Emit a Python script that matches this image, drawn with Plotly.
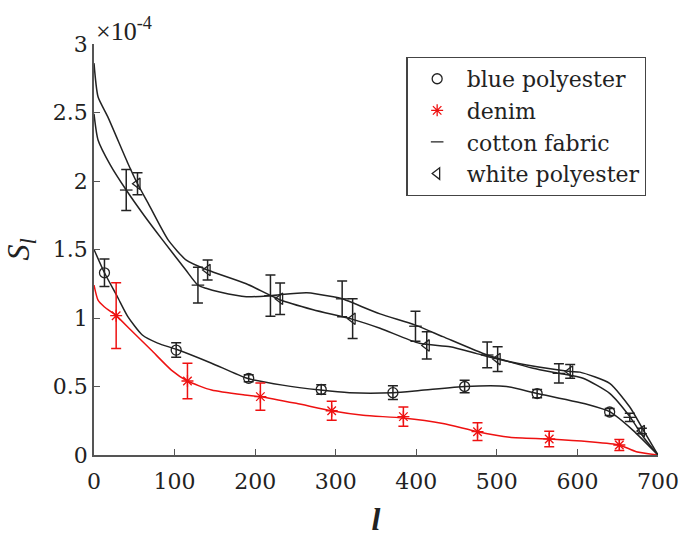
import plotly.graph_objects as go

# ---- data (S_l in units of 1e-4) ----
blue_x = [0, 13, 29, 42, 60, 79, 103, 146, 190, 234, 281, 317, 371, 404, 461, 512, 549, 615, 640, 669, 700]
blue_y = [1.5, 1.33, 1.155, 1.01, 0.876, 0.817, 0.77, 0.67, 0.56, 0.51, 0.474, 0.455, 0.455, 0.47, 0.50, 0.50, 0.45, 0.365, 0.316, 0.18, 0.0]

denim_x = [0, 5, 13, 27.5, 46, 71, 96, 116, 146, 187, 206.5, 251, 294.6, 334, 383.6, 433, 476, 516, 565, 615, 652, 673, 700]
denim_y = [1.24, 1.13, 1.08, 1.017, 0.91, 0.766, 0.62, 0.54, 0.474, 0.438, 0.426, 0.377, 0.323, 0.29, 0.27, 0.23, 0.17, 0.13, 0.117, 0.097, 0.073, 0.024, 0.0]

cotton_x = [0, 5, 20, 40, 62, 85, 114, 129, 139, 156, 189, 219, 264, 297, 308, 355, 398, 433, 488, 545, 577, 607, 640, 665, 682, 700]
cotton_y = [2.49, 2.3, 2.12, 1.934, 1.75, 1.57, 1.35, 1.24, 1.217, 1.19, 1.155, 1.163, 1.185, 1.155, 1.14, 1.03, 0.95, 0.864, 0.73, 0.633, 0.596, 0.56, 0.45, 0.28, 0.13, 0.0]

white_x = [0, 5, 17, 42, 54, 67, 92, 115, 141, 189, 230, 272, 321, 355, 404, 442, 475, 501, 537, 591, 603, 640, 665, 682, 700]
white_y = [2.86, 2.615, 2.47, 2.13, 1.98, 1.84, 1.57, 1.42, 1.35, 1.25, 1.135, 1.06, 0.99, 0.925, 0.815, 0.79, 0.74, 0.70, 0.657, 0.61, 0.605, 0.523, 0.35, 0.18, 0.0]

blue_px = [13, 102, 192, 282, 371, 460, 550, 640]
blue_py = [1.33, 0.766, 0.56, 0.478, 0.455, 0.50, 0.448, 0.314]
blue_pe = [0.10, 0.053, 0.025, 0.035, 0.05, 0.045, 0.03, 0.025]

denim_px = [27.5, 116, 206.5, 295, 384, 476, 565, 652]
denim_py = [1.017, 0.54, 0.426, 0.323, 0.28, 0.17, 0.117, 0.073]
denim_pe = [0.24, 0.13, 0.10, 0.07, 0.07, 0.065, 0.057, 0.04]

cotton_px = [40, 129, 219, 308, 399, 488, 577, 665]
cotton_py = [1.934, 1.24, 1.163, 1.14, 0.94, 0.73, 0.596, 0.275]
cotton_pe = [0.15, 0.13, 0.15, 0.13, 0.11, 0.094, 0.07, 0.03]

white_px = [54, 141, 231, 321, 413, 501, 591, 680]
white_py = [1.98, 1.35, 1.14, 0.995, 0.80, 0.70, 0.61, 0.175]
white_pe = [0.08, 0.073, 0.115, 0.145, 0.10, 0.09, 0.05, 0.02]

names = ["blue polyester", "denim", "cotton fabric", "white polyester"]
x_ticks = [0, 100, 200, 300, 400, 500, 600, 700]
y_ticks = [0, 0.5, 1, 1.5, 2, 2.5, 3]
y_tick_text = ["0", "0.5", "1", "1.5", "2", "2.5", "3"]

BLACK = "#222222"
RED = "#ee1111"
FONT_T = "DejaVu Serif"
FONT_TIMES = "Times New Roman"

series = [
    (blue_x, blue_y, blue_px, blue_py, blue_pe, BLACK, "circle-open", 10),
    (denim_x, denim_y, denim_px, denim_py, denim_pe, RED, "asterisk-open", 10),
    (cotton_x, cotton_y, cotton_px, cotton_py, cotton_pe, BLACK, "line-ew-open", 9),
    (white_x, white_y, white_px, white_py, white_pe, BLACK, "triangle-left-open", 10),
]

fig = go.Figure()
for (cx, cy, px, py, pe, col, sym, sz), nm in zip(series, names):
    fig.add_trace(go.Scatter(
        x=cx, y=cy, mode="lines", showlegend=False, hoverinfo="skip",
        line=dict(color=col, width=1.5, shape="spline", smoothing=0.6),
    ))
for (cx, cy, px, py, pe, col, sym, sz), nm in zip(series, names):
    fig.add_trace(go.Scatter(
        x=px, y=py, mode="markers", name=nm,
        marker=dict(symbol=sym, size=sz, color=col, line=dict(color=col, width=1.3)),
        error_y=dict(type="data", array=pe, visible=True, color=col, thickness=1.5, width=5),
    ))

fig.update_layout(
    width=685, height=537,
    margin=dict(l=94, r=27, t=44, b=82, autoexpand=False),
    paper_bgcolor="white", plot_bgcolor="white",
    font=dict(family=FONT_T, size=22, color="#222222"),
    showlegend=True,
    legend=dict(
        x=0.554, y=0.969, xanchor="left", yanchor="top",
        bgcolor="white", bordercolor="#444444", borderwidth=1.2,
        font=dict(family=FONT_T, size=22, color="#222222"),
        itemwidth=49, tracegroupgap=0,
    ),
    xaxis=dict(
        range=[0, 700], tickvals=x_ticks, showgrid=False, zeroline=False,
        showline=True, linecolor="#555555", linewidth=1.5, automargin=False,
        ticks="inside", ticklen=6, tickcolor="#555555", tickwidth=1.2,
        ticklabelstandoff=6,
        tickfont=dict(family=FONT_T, size=22, color="#222222"),
        title=dict(text="<b><i>l</i></b>", font=dict(family=FONT_TIMES, size=32, color="#222222"), standoff=16),
    ),
    yaxis=dict(
        range=[0, 3], tickvals=y_ticks, ticktext=y_tick_text, showgrid=False, zeroline=False,
        showline=True, linecolor="#555555", linewidth=1.5, automargin=False,
        ticks="inside", ticklen=6, tickcolor="#555555", tickwidth=1.2,
        tickfont=dict(family=FONT_T, size=22, color="#222222"),
        title=dict(text="<i>S<sub>l</sub></i>", font=dict(family=FONT_TIMES, size=32, color="#222222"), standoff=14),
    ),
)

fig.add_annotation(
    text="×10<sup>-4</sup>", xref="paper", yref="paper", x=0.0, y=1.0,
    xanchor="left", yanchor="bottom", showarrow=False,
    font=dict(family=FONT_TIMES, size=26, color="#222222"), yshift=-4,
)

fig.write_html("out.html", config={"displayModeBar": False},
               post_script="document.body.style.margin='0px';")
